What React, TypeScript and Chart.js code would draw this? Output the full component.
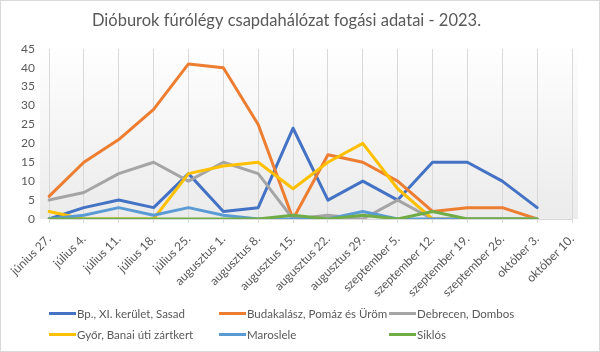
import React, { useEffect, useRef } from "react";
import { Chart, registerables } from "chart.js";

Chart.register(...registerables);

const titleText = "Dióburok fúrólégy csapdahálózat fogási adatai - 2023.";

const categories = [
  "június 27.",
  "július 4.",
  "július 11.",
  "július 18.",
  "július 25.",
  "augusztus 1.",
  "augusztus 8.",
  "augusztus 15.",
  "augusztus 22.",
  "augusztus 29.",
  "szeptember 5.",
  "szeptember 12.",
  "szeptember 19.",
  "szeptember 26.",
  "október 3.",
  "október 10.",
];

const seriesNames = [
  "Bp., XI. kerület, Sasad",
  "Budakalász, Pomáz és Üröm",
  "Debrecen, Dombos",
  "Győr, Banai úti zártkert",
  "Maroslele",
  "Siklós",
];

const seriesColors = ["#4472C4", "#ED7D31", "#A5A5A5", "#FFC000", "#5B9BD5", "#70AD47"];

const bpSasad = [0, 3, 5, 3, 12, 2, 3, 24, 5, 10, 5, 15, 15, 10, 3, null];
const budakalasz = [6, 15, 21, 29, 41, 40, 25, 0, 17, 15, 10, 2, 3, 3, 0, null];
const debrecen = [5, 7, 12, 15, 10, 15, 12, 0, 1, 0, 5, 0, 0, 0, 0, null];
const gyor = [2, 0, 0, 0, 12, 14, 15, 8, 15, 20, 8, 0, 0, 0, 0, null];
const maroslele = [0, 1, 3, 1, 3, 1, 0, 0, 0, 2, 0, 0, 0, 0, 0, null];
const siklos = [0, 0, 0, 0, 0, 0, 0, 1, 0, 1, 0, 2, 0, 0, 0, null];

const seriesValues = [bpSasad, budakalasz, debrecen, gyor, maroslele, siklos];

const yMin = 0;
const yMax = 45;
const yStep = 5;

const TEXT = "#595959";
const GRID = "#d9d9d9";
const FONT = "Lato";

export default function App() {
  const ref = useRef<HTMLCanvasElement>(null);

  useEffect(() => {
    const canvas = ref.current;
    if (!canvas) return;
    const plotBg = {
      id: "plotBg",
      beforeDraw(chart: any) {
        const { ctx, chartArea: a } = chart;
        const top = a.top - 8;
        const g = ctx.createLinearGradient(0, top, 0, a.bottom);
        g.addColorStop(0, "#ffffff");
        g.addColorStop(1, "#ebebeb");
        ctx.save();
        ctx.fillStyle = g;
        ctx.fillRect(a.left - 9, top, a.right - a.left + 15, a.bottom - top);
        ctx.restore();
      },
    };
    const chart = new Chart(canvas, {
      type: "line",
      data: {
        labels: categories,
        datasets: seriesNames.map((name, i) => ({
          label: name,
          data: seriesValues[i],
          borderColor: seriesColors[i],
          backgroundColor: seriesColors[i],
          borderWidth: 3,
          pointRadius: 0,
          pointHoverRadius: 0,
          tension: 0,
          fill: false,
          borderJoinStyle: "round" as const,
          borderCapStyle: "round" as const,
          order: seriesNames.length - i,
        })),
      },
      options: {
        animation: false,
        responsive: true,
        maintainAspectRatio: false,
        events: [],
        layout: { padding: { left: 0, right: 27, top: 0, bottom: 0 } },
        plugins: {
          legend: { display: false },
          tooltip: { enabled: false },
          title: {
            display: true,
            text: titleText,
            color: TEXT,
            font: { family: FONT, size: 16.5, weight: "normal" },
            padding: { top: 10, bottom: 18 },
          },
        },
        scales: {
          x: {
            offset: false,
            grid: {
              display: true,
              color: GRID,
              lineWidth: 1,
              drawTicks: true,
              tickLength: 4,
            },
            border: { display: true, color: GRID, width: 1 },
            ticks: {
              autoSkip: false,
              maxRotation: 45,
              minRotation: 45,
              padding: 9,
              color: TEXT,
              font: { family: FONT, size: 12 },
            },
            afterFit: (s: any) => {
              s.height = 132;
            },
          },
          y: {
            min: yMin,
            max: yMax,
            grid: { display: false, drawTicks: false, tickLength: 0 },
            border: { display: false },
            ticks: {
              stepSize: yStep,
              padding: 14,
              color: TEXT,
              font: { family: FONT, size: 12 },
            },
            afterFit: (s: any) => {
              s.width = 48;
            },
          },
        },
      },
      plugins: [plotBg],
    });
    return () => chart.destroy();
  }, []);

  const legendLeft = 48;
  const colWidth = 170;
  const rowTops = [304, 325];

  return (
    <div
      style={{
        position: "fixed",
        left: 0,
        top: 0,
        width: 600,
        height: 352,
        boxSizing: "border-box",
        border: "1px solid #d9d9d9",
        background: "#ffffff",
        fontFamily: FONT,
      }}
    >
      <div style={{ position: "absolute", left: 0, top: 0, width: 598, height: 350 }}>
        <canvas ref={ref} />
      </div>
      {seriesNames.map((name, i) => (
        <div
          key={name}
          style={{
            position: "absolute",
            left: legendLeft + (i % 3) * colWidth,
            top: rowTops[Math.floor(i / 3)],
            height: 16,
            display: "flex",
            alignItems: "center",
            whiteSpace: "nowrap",
            fontSize: 11.5,
            color: TEXT,
          }}
        >
          <span
            style={{
              display: "inline-block",
              width: 27,
              height: 3,
              background: seriesColors[i],
              marginRight: 1,
            }}
          />
          <span>{name}</span>
        </div>
      ))}
    </div>
  );
}
